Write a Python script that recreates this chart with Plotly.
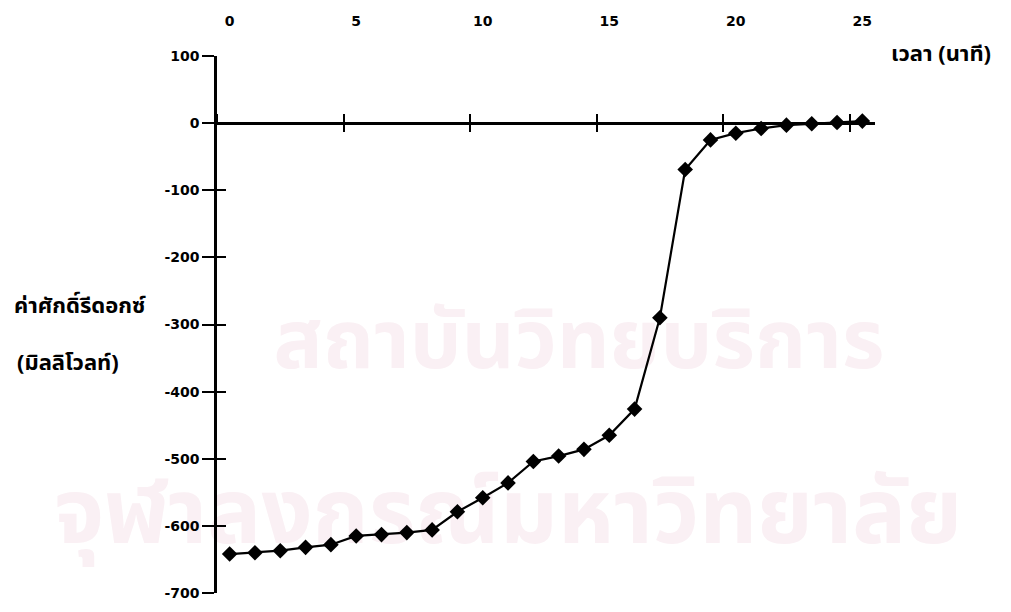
import plotly.graph_objects as go

# Redox potential over time
minutes = [0, 1, 2, 3, 4, 5, 6, 7, 8, 9, 10, 11, 12, 13, 14, 15, 16, 17, 18, 19, 20, 21, 22, 23, 24, 25]
redox_mv = [-642, -640, -637, -632, -628, -615, -613, -610, -606, -579, -558, -536,
            -504, -496, -486, -465, -426, -290, -69, -25, -15, -8, -3, -1, 1, 3]

y_range = [-700, 100]
y_tick_values = [100, 0, -100, -200, -300, -400, -500, -600, -700]
y_tick_labels = ["100", "0", "-100", "-200", "-300", "-400", "-500", "-600", "-700"]
x_tick_step = 5

x_title = "เวลา (นาที)"
y_title_lines = ["ค่าศักดิ์รีดอกซ์", "(มิลลิโวลท์)"]
watermark_lines = ["สถาบันวิทยบริการ", "จุฬาลงกรณ์มหาวิทยาลัย"]

INK = "#000000"
LABEL_FONT = dict(family="DejaVu Sans, Liberation Sans, sans-serif", size=14, color=INK, weight="bold")
THAI_FAMILY = "Noto Sans Thai, Loma, Garuda, Tahoma, sans-serif"
THAI_FONT = dict(family=THAI_FAMILY, size=22, color=INK, weight="bold")

# fraction of the plot height where the value axis crosses zero
zero_pos = (0 - y_range[0]) / (y_range[1] - y_range[0])

fig = go.Figure()

# faint institutional watermark, on the base layer so the data sit above it
fig.add_trace(go.Scatter(
    x=[13.8, 11.0], y=[-335, -592], mode="text", text=watermark_lines,
    textfont=dict(family=THAI_FAMILY, size=[82, 90], color="#faf0f4", weight="bold"),
    cliponaxis=False, xaxis="x", yaxis="y", showlegend=False, hoverinfo="skip",
))
# diamond markers (on the overlay axes that carry the inward tick marks)
fig.add_trace(go.Scatter(
    x=minutes, y=redox_mv, mode="markers",
    marker=dict(symbol="diamond", size=12, color=INK, line=dict(width=0)),
    xaxis="x2", yaxis="y2", showlegend=False,
))
# connecting line
fig.add_trace(go.Scatter(
    x=minutes, y=redox_mv, mode="lines",
    line=dict(color=INK, width=2.2),
    xaxis="x3", yaxis="y", showlegend=False, hoverinfo="skip",
))

common_x = dict(
    type="linear", tickmode="linear", tick0=-0.5, dtick=x_tick_step,
    range=[-0.5, 25.5], anchor="free", position=zero_pos, side="top",
    showgrid=False, zeroline=False, tickcolor=INK, tickwidth=2, ticklen=8,
)
common_y = dict(
    range=y_range, tickmode="array", tickvals=y_tick_values, ticktext=y_tick_labels,
    showgrid=False, zeroline=False, tickcolor=INK, tickwidth=2,
)

fig.update_layout(
    width=1011, height=612,
    margin=dict(l=217, r=136, t=56, b=11),
    paper_bgcolor="white", plot_bgcolor="white",
    xaxis=dict(
        **common_x,
        showline=True, linecolor=INK, linewidth=2.5,
        ticks="outside", showticklabels=False,
    ),
    xaxis2=dict(
        **common_x, overlaying="x", matches="x",
        showline=False, ticks="inside", showticklabels=False,
    ),
    # tick labels sit at whole minutes, above the plot
    xaxis3=dict(
        range=[-0.5, 25.5], overlaying="x", matches="x", anchor="y", side="top",
        tickmode="linear", tick0=0, dtick=x_tick_step, ticks="", showline=False,
        showgrid=False, zeroline=False, tickfont=LABEL_FONT, ticklabelstandoff=26,
    ),
    yaxis=dict(
        **common_y, anchor="x", side="left",
        showline=True, linecolor=INK, linewidth=2.5,
        ticks="outside", ticklen=12, tickfont=LABEL_FONT,
    ),
    yaxis2=dict(
        **common_y, overlaying="y", matches="y", anchor="x2", side="left",
        showline=False, ticks="inside", ticklen=9, showticklabels=False,
    ),
)

# axis titles
fig.add_annotation(
    xref="paper", yref="paper", x=1.0, xanchor="left", xshift=14,
    y=1.0, yanchor="middle", yshift=2,
    text=x_title, showarrow=False, font=THAI_FONT,
)
for i, line in enumerate(y_title_lines):
    fig.add_annotation(
        xref="paper", yref="paper", x=0, xanchor="center", xshift=-137 if i == 0 else -149,
        y=0.533 - i * 0.106, yanchor="middle",
        text=line, showarrow=False, font=THAI_FONT,
    )

fig.write_html("out.html")
